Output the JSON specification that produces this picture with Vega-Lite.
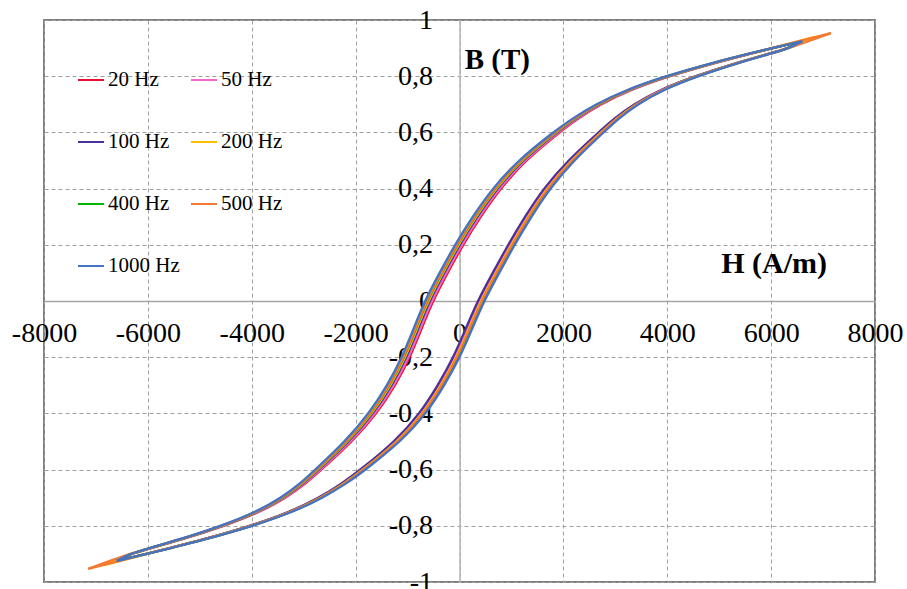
{
"$schema": "https://vega.github.io/schema/vega-lite/v6.json",
"width": 831, "height": 562,
"autosize": {"type": "none"},
"padding": {"left": 44, "top": 20, "right": 32, "bottom": 7},
"background": "white",
"config": {"view": {"stroke": "#7f7f7f", "strokeWidth": 2}, "font": "Liberation Serif"},
"datasets": {"loops": [
{"f":"20 Hz","br":"u","h":-6600,"b":-0.925},{"f":"20 Hz","br":"u","h":-6338,"b":-0.9},{"f":"20 Hz","br":"u","h":-5954,"b":-0.88},{"f":"20 Hz","br":"u","h":-5366,"b":-0.85},{"f":"20 Hz","br":"u","h":-4518,"b":-0.8},{"f":"20 Hz","br":"u","h":-3826,"b":-0.75},{"f":"20 Hz","br":"u","h":-3341,"b":-0.7},{"f":"20 Hz","br":"u","h":-2960,"b":-0.65},{"f":"20 Hz","br":"u","h":-2655,"b":-0.6},{"f":"20 Hz","br":"u","h":-2063,"b":-0.5},{"f":"20 Hz","br":"u","h":-1587,"b":-0.4},{"f":"20 Hz","br":"u","h":-1235,"b":-0.3},{"f":"20 Hz","br":"u","h":-950,"b":-0.2},{"f":"20 Hz","br":"u","h":-733,"b":-0.1},{"f":"20 Hz","br":"u","h":-516,"b":0},{"f":"20 Hz","br":"u","h":-230,"b":0.1},{"f":"20 Hz","br":"u","h":65,"b":0.2},{"f":"20 Hz","br":"u","h":405,"b":0.3},{"f":"20 Hz","br":"u","h":785,"b":0.4},{"f":"20 Hz","br":"u","h":1262,"b":0.5},{"f":"20 Hz","br":"u","h":1923,"b":0.6},{"f":"20 Hz","br":"u","h":2282,"b":0.65},{"f":"20 Hz","br":"u","h":2717,"b":0.7},{"f":"20 Hz","br":"u","h":3266,"b":0.75},{"f":"20 Hz","br":"u","h":4022,"b":0.8},{"f":"20 Hz","br":"u","h":4964,"b":0.85},{"f":"20 Hz","br":"u","h":5606,"b":0.88},{"f":"20 Hz","br":"u","h":6032,"b":0.9},{"f":"20 Hz","br":"u","h":6600,"b":0.925},
{"f":"20 Hz","br":"l","h":-6600,"b":-0.925},{"f":"20 Hz","br":"l","h":-6023,"b":-0.9},{"f":"20 Hz","br":"l","h":-5594,"b":-0.88},{"f":"20 Hz","br":"l","h":-4946,"b":-0.85},{"f":"20 Hz","br":"l","h":-3998,"b":-0.8},{"f":"20 Hz","br":"l","h":-3236,"b":-0.75},{"f":"20 Hz","br":"l","h":-2681,"b":-0.7},{"f":"20 Hz","br":"l","h":-2240,"b":-0.65},{"f":"20 Hz","br":"l","h":-1875,"b":-0.6},{"f":"20 Hz","br":"l","h":-1208,"b":-0.5},{"f":"20 Hz","br":"l","h":-725,"b":-0.4},{"f":"20 Hz","br":"l","h":-380,"b":-0.3},{"f":"20 Hz","br":"l","h":-80,"b":-0.2},{"f":"20 Hz","br":"l","h":152,"b":-0.1},{"f":"20 Hz","br":"l","h":382,"b":0},{"f":"20 Hz","br":"l","h":675,"b":0.1},{"f":"20 Hz","br":"l","h":970,"b":0.2},{"f":"20 Hz","br":"l","h":1295,"b":0.3},{"f":"20 Hz","br":"l","h":1647,"b":0.4},{"f":"20 Hz","br":"l","h":2117,"b":0.5},{"f":"20 Hz","br":"l","h":2703,"b":0.6},{"f":"20 Hz","br":"l","h":3002,"b":0.65},{"f":"20 Hz","br":"l","h":3377,"b":0.7},{"f":"20 Hz","br":"l","h":3856,"b":0.75},{"f":"20 Hz","br":"l","h":4542,"b":0.8},{"f":"20 Hz","br":"l","h":5384,"b":0.85},{"f":"20 Hz","br":"l","h":5966,"b":0.88},{"f":"20 Hz","br":"l","h":6347,"b":0.9},{"f":"20 Hz","br":"l","h":6600,"b":0.925},
{"f":"50 Hz","br":"u","h":-6600,"b":-0.925},{"f":"50 Hz","br":"u","h":-6342,"b":-0.9},{"f":"50 Hz","br":"u","h":-5959,"b":-0.88},{"f":"50 Hz","br":"u","h":-5373,"b":-0.85},{"f":"50 Hz","br":"u","h":-4528,"b":-0.8},{"f":"50 Hz","br":"u","h":-3838,"b":-0.75},{"f":"50 Hz","br":"u","h":-3356,"b":-0.7},{"f":"50 Hz","br":"u","h":-2977,"b":-0.65},{"f":"50 Hz","br":"u","h":-2675,"b":-0.6},{"f":"50 Hz","br":"u","h":-2085,"b":-0.5},{"f":"50 Hz","br":"u","h":-1612,"b":-0.4},{"f":"50 Hz","br":"u","h":-1260,"b":-0.3},{"f":"50 Hz","br":"u","h":-975,"b":-0.2},{"f":"50 Hz","br":"u","h":-758,"b":-0.1},{"f":"50 Hz","br":"u","h":-541,"b":0},{"f":"50 Hz","br":"u","h":-255,"b":0.1},{"f":"50 Hz","br":"u","h":40,"b":0.2},{"f":"50 Hz","br":"u","h":380,"b":0.3},{"f":"50 Hz","br":"u","h":760,"b":0.4},{"f":"50 Hz","br":"u","h":1240,"b":0.5},{"f":"50 Hz","br":"u","h":1903,"b":0.6},{"f":"50 Hz","br":"u","h":2265,"b":0.65},{"f":"50 Hz","br":"u","h":2702,"b":0.7},{"f":"50 Hz","br":"u","h":3254,"b":0.75},{"f":"50 Hz","br":"u","h":4012,"b":0.8},{"f":"50 Hz","br":"u","h":4957,"b":0.85},{"f":"50 Hz","br":"u","h":5601,"b":0.88},{"f":"50 Hz","br":"u","h":6028,"b":0.9},{"f":"50 Hz","br":"u","h":6600,"b":0.925},
{"f":"50 Hz","br":"l","h":-6600,"b":-0.925},{"f":"50 Hz","br":"l","h":-6025,"b":-0.9},{"f":"50 Hz","br":"l","h":-5597,"b":-0.88},{"f":"50 Hz","br":"l","h":-4951,"b":-0.85},{"f":"50 Hz","br":"l","h":-4004,"b":-0.8},{"f":"50 Hz","br":"l","h":-3244,"b":-0.75},{"f":"50 Hz","br":"l","h":-2690,"b":-0.7},{"f":"50 Hz","br":"l","h":-2251,"b":-0.65},{"f":"50 Hz","br":"l","h":-1887,"b":-0.6},{"f":"50 Hz","br":"l","h":-1222,"b":-0.5},{"f":"50 Hz","br":"l","h":-740,"b":-0.4},{"f":"50 Hz","br":"l","h":-395,"b":-0.3},{"f":"50 Hz","br":"l","h":-95,"b":-0.2},{"f":"50 Hz","br":"l","h":137,"b":-0.1},{"f":"50 Hz","br":"l","h":367,"b":0},{"f":"50 Hz","br":"l","h":660,"b":0.1},{"f":"50 Hz","br":"l","h":955,"b":0.2},{"f":"50 Hz","br":"l","h":1280,"b":0.3},{"f":"50 Hz","br":"l","h":1632,"b":0.4},{"f":"50 Hz","br":"l","h":2103,"b":0.5},{"f":"50 Hz","br":"l","h":2691,"b":0.6},{"f":"50 Hz","br":"l","h":2991,"b":0.65},{"f":"50 Hz","br":"l","h":3368,"b":0.7},{"f":"50 Hz","br":"l","h":3848,"b":0.75},{"f":"50 Hz","br":"l","h":4536,"b":0.8},{"f":"50 Hz","br":"l","h":5379,"b":0.85},{"f":"50 Hz","br":"l","h":5963,"b":0.88},{"f":"50 Hz","br":"l","h":6345,"b":0.9},{"f":"50 Hz","br":"l","h":6600,"b":0.925},
{"f":"100 Hz","br":"u","h":-6600,"b":-0.925},{"f":"100 Hz","br":"u","h":-6348,"b":-0.9},{"f":"100 Hz","br":"u","h":-5967,"b":-0.88},{"f":"100 Hz","br":"u","h":-5385,"b":-0.85},{"f":"100 Hz","br":"u","h":-4544,"b":-0.8},{"f":"100 Hz","br":"u","h":-3858,"b":-0.75},{"f":"100 Hz","br":"u","h":-3380,"b":-0.7},{"f":"100 Hz","br":"u","h":-3005,"b":-0.65},{"f":"100 Hz","br":"u","h":-2707,"b":-0.6},{"f":"100 Hz","br":"u","h":-2121,"b":-0.5},{"f":"100 Hz","br":"u","h":-1652,"b":-0.4},{"f":"100 Hz","br":"u","h":-1300,"b":-0.3},{"f":"100 Hz","br":"u","h":-1015,"b":-0.2},{"f":"100 Hz","br":"u","h":-798,"b":-0.1},{"f":"100 Hz","br":"u","h":-581,"b":0},{"f":"100 Hz","br":"u","h":-295,"b":0.1},{"f":"100 Hz","br":"u","h":0,"b":0.2},{"f":"100 Hz","br":"u","h":340,"b":0.3},{"f":"100 Hz","br":"u","h":720,"b":0.4},{"f":"100 Hz","br":"u","h":1204,"b":0.5},{"f":"100 Hz","br":"u","h":1871,"b":0.6},{"f":"100 Hz","br":"u","h":2237,"b":0.65},{"f":"100 Hz","br":"u","h":2678,"b":0.7},{"f":"100 Hz","br":"u","h":3234,"b":0.75},{"f":"100 Hz","br":"u","h":3996,"b":0.8},{"f":"100 Hz","br":"u","h":4945,"b":0.85},{"f":"100 Hz","br":"u","h":5593,"b":0.88},{"f":"100 Hz","br":"u","h":6022,"b":0.9},{"f":"100 Hz","br":"u","h":6600,"b":0.925},
{"f":"100 Hz","br":"l","h":-6600,"b":-0.925},{"f":"100 Hz","br":"l","h":-6028,"b":-0.9},{"f":"100 Hz","br":"l","h":-5601,"b":-0.88},{"f":"100 Hz","br":"l","h":-4957,"b":-0.85},{"f":"100 Hz","br":"l","h":-4012,"b":-0.8},{"f":"100 Hz","br":"l","h":-3254,"b":-0.75},{"f":"100 Hz","br":"l","h":-2702,"b":-0.7},{"f":"100 Hz","br":"l","h":-2265,"b":-0.65},{"f":"100 Hz","br":"l","h":-1903,"b":-0.6},{"f":"100 Hz","br":"l","h":-1240,"b":-0.5},{"f":"100 Hz","br":"l","h":-760,"b":-0.4},{"f":"100 Hz","br":"l","h":-415,"b":-0.3},{"f":"100 Hz","br":"l","h":-115,"b":-0.2},{"f":"100 Hz","br":"l","h":117,"b":-0.1},{"f":"100 Hz","br":"l","h":347,"b":0},{"f":"100 Hz","br":"l","h":640,"b":0.1},{"f":"100 Hz","br":"l","h":935,"b":0.2},{"f":"100 Hz","br":"l","h":1260,"b":0.3},{"f":"100 Hz","br":"l","h":1612,"b":0.4},{"f":"100 Hz","br":"l","h":2085,"b":0.5},{"f":"100 Hz","br":"l","h":2675,"b":0.6},{"f":"100 Hz","br":"l","h":2977,"b":0.65},{"f":"100 Hz","br":"l","h":3356,"b":0.7},{"f":"100 Hz","br":"l","h":3838,"b":0.75},{"f":"100 Hz","br":"l","h":4528,"b":0.8},{"f":"100 Hz","br":"l","h":5373,"b":0.85},{"f":"100 Hz","br":"l","h":5959,"b":0.88},{"f":"100 Hz","br":"l","h":6342,"b":0.9},{"f":"100 Hz","br":"l","h":6600,"b":0.925},
{"f":"200 Hz","br":"u","h":-6850,"b":-0.94},{"f":"200 Hz","br":"u","h":-6352,"b":-0.9},{"f":"200 Hz","br":"u","h":-5972,"b":-0.88},{"f":"200 Hz","br":"u","h":-5393,"b":-0.85},{"f":"200 Hz","br":"u","h":-4554,"b":-0.8},{"f":"200 Hz","br":"u","h":-3871,"b":-0.75},{"f":"200 Hz","br":"u","h":-3395,"b":-0.7},{"f":"200 Hz","br":"u","h":-3023,"b":-0.65},{"f":"200 Hz","br":"u","h":-2727,"b":-0.6},{"f":"200 Hz","br":"u","h":-2144,"b":-0.5},{"f":"200 Hz","br":"u","h":-1677,"b":-0.4},{"f":"200 Hz","br":"u","h":-1325,"b":-0.3},{"f":"200 Hz","br":"u","h":-1040,"b":-0.2},{"f":"200 Hz","br":"u","h":-823,"b":-0.1},{"f":"200 Hz","br":"u","h":-606,"b":0},{"f":"200 Hz","br":"u","h":-320,"b":0.1},{"f":"200 Hz","br":"u","h":-25,"b":0.2},{"f":"200 Hz","br":"u","h":315,"b":0.3},{"f":"200 Hz","br":"u","h":695,"b":0.4},{"f":"200 Hz","br":"u","h":1181,"b":0.5},{"f":"200 Hz","br":"u","h":1851,"b":0.6},{"f":"200 Hz","br":"u","h":2219,"b":0.65},{"f":"200 Hz","br":"u","h":2663,"b":0.7},{"f":"200 Hz","br":"u","h":3221,"b":0.75},{"f":"200 Hz","br":"u","h":3986,"b":0.8},{"f":"200 Hz","br":"u","h":4937,"b":0.85},{"f":"200 Hz","br":"u","h":5588,"b":0.88},{"f":"200 Hz","br":"u","h":6018,"b":0.9},{"f":"200 Hz","br":"u","h":6850,"b":0.94},
{"f":"200 Hz","br":"l","h":-6850,"b":-0.94},{"f":"200 Hz","br":"l","h":-6019,"b":-0.9},{"f":"200 Hz","br":"l","h":-5589,"b":-0.88},{"f":"200 Hz","br":"l","h":-4938,"b":-0.85},{"f":"200 Hz","br":"l","h":-3988,"b":-0.8},{"f":"200 Hz","br":"l","h":-3223,"b":-0.75},{"f":"200 Hz","br":"l","h":-2666,"b":-0.7},{"f":"200 Hz","br":"l","h":-2222,"b":-0.65},{"f":"200 Hz","br":"l","h":-1855,"b":-0.6},{"f":"200 Hz","br":"l","h":-1185,"b":-0.5},{"f":"200 Hz","br":"l","h":-700,"b":-0.4},{"f":"200 Hz","br":"l","h":-355,"b":-0.3},{"f":"200 Hz","br":"l","h":-55,"b":-0.2},{"f":"200 Hz","br":"l","h":177,"b":-0.1},{"f":"200 Hz","br":"l","h":407,"b":0},{"f":"200 Hz","br":"l","h":700,"b":0.1},{"f":"200 Hz","br":"l","h":995,"b":0.2},{"f":"200 Hz","br":"l","h":1320,"b":0.3},{"f":"200 Hz","br":"l","h":1672,"b":0.4},{"f":"200 Hz","br":"l","h":2140,"b":0.5},{"f":"200 Hz","br":"l","h":2723,"b":0.6},{"f":"200 Hz","br":"l","h":3020,"b":0.65},{"f":"200 Hz","br":"l","h":3392,"b":0.7},{"f":"200 Hz","br":"l","h":3869,"b":0.75},{"f":"200 Hz","br":"l","h":4552,"b":0.8},{"f":"200 Hz","br":"l","h":5392,"b":0.85},{"f":"200 Hz","br":"l","h":5971,"b":0.88},{"f":"200 Hz","br":"l","h":6351,"b":0.9},{"f":"200 Hz","br":"l","h":6850,"b":0.94},
{"f":"400 Hz","br":"u","h":-6600,"b":-0.925},{"f":"400 Hz","br":"u","h":-6355,"b":-0.9},{"f":"400 Hz","br":"u","h":-5976,"b":-0.88},{"f":"400 Hz","br":"u","h":-5399,"b":-0.85},{"f":"400 Hz","br":"u","h":-4562,"b":-0.8},{"f":"400 Hz","br":"u","h":-3881,"b":-0.75},{"f":"400 Hz","br":"u","h":-3407,"b":-0.7},{"f":"400 Hz","br":"u","h":-3037,"b":-0.65},{"f":"400 Hz","br":"u","h":-2743,"b":-0.6},{"f":"400 Hz","br":"u","h":-2162,"b":-0.5},{"f":"400 Hz","br":"u","h":-1697,"b":-0.4},{"f":"400 Hz","br":"u","h":-1345,"b":-0.3},{"f":"400 Hz","br":"u","h":-1060,"b":-0.2},{"f":"400 Hz","br":"u","h":-843,"b":-0.1},{"f":"400 Hz","br":"u","h":-626,"b":0},{"f":"400 Hz","br":"u","h":-340,"b":0.1},{"f":"400 Hz","br":"u","h":-45,"b":0.2},{"f":"400 Hz","br":"u","h":295,"b":0.3},{"f":"400 Hz","br":"u","h":675,"b":0.4},{"f":"400 Hz","br":"u","h":1163,"b":0.5},{"f":"400 Hz","br":"u","h":1835,"b":0.6},{"f":"400 Hz","br":"u","h":2205,"b":0.65},{"f":"400 Hz","br":"u","h":2651,"b":0.7},{"f":"400 Hz","br":"u","h":3211,"b":0.75},{"f":"400 Hz","br":"u","h":3978,"b":0.8},{"f":"400 Hz","br":"u","h":4931,"b":0.85},{"f":"400 Hz","br":"u","h":5584,"b":0.88},{"f":"400 Hz","br":"u","h":6015,"b":0.9},{"f":"400 Hz","br":"u","h":6600,"b":0.925},
{"f":"400 Hz","br":"l","h":-6600,"b":-0.925},{"f":"400 Hz","br":"l","h":-6015,"b":-0.9},{"f":"400 Hz","br":"l","h":-5583,"b":-0.88},{"f":"400 Hz","br":"l","h":-4929,"b":-0.85},{"f":"400 Hz","br":"l","h":-3976,"b":-0.8},{"f":"400 Hz","br":"l","h":-3208,"b":-0.75},{"f":"400 Hz","br":"l","h":-2648,"b":-0.7},{"f":"400 Hz","br":"l","h":-2201,"b":-0.65},{"f":"400 Hz","br":"l","h":-1831,"b":-0.6},{"f":"400 Hz","br":"l","h":-1158,"b":-0.5},{"f":"400 Hz","br":"l","h":-670,"b":-0.4},{"f":"400 Hz","br":"l","h":-325,"b":-0.3},{"f":"400 Hz","br":"l","h":-25,"b":-0.2},{"f":"400 Hz","br":"l","h":207,"b":-0.1},{"f":"400 Hz","br":"l","h":437,"b":0},{"f":"400 Hz","br":"l","h":730,"b":0.1},{"f":"400 Hz","br":"l","h":1025,"b":0.2},{"f":"400 Hz","br":"l","h":1350,"b":0.3},{"f":"400 Hz","br":"l","h":1702,"b":0.4},{"f":"400 Hz","br":"l","h":2167,"b":0.5},{"f":"400 Hz","br":"l","h":2747,"b":0.6},{"f":"400 Hz","br":"l","h":3041,"b":0.65},{"f":"400 Hz","br":"l","h":3410,"b":0.7},{"f":"400 Hz","br":"l","h":3884,"b":0.75},{"f":"400 Hz","br":"l","h":4564,"b":0.8},{"f":"400 Hz","br":"l","h":5401,"b":0.85},{"f":"400 Hz","br":"l","h":5977,"b":0.88},{"f":"400 Hz","br":"l","h":6355,"b":0.9},{"f":"400 Hz","br":"l","h":6600,"b":0.925},
{"f":"500 Hz","br":"u","h":-7150,"b":-0.953},{"f":"500 Hz","br":"u","h":-6356,"b":-0.9},{"f":"500 Hz","br":"u","h":-5978,"b":-0.88},{"f":"500 Hz","br":"u","h":-5402,"b":-0.85},{"f":"500 Hz","br":"u","h":-4566,"b":-0.8},{"f":"500 Hz","br":"u","h":-3886,"b":-0.75},{"f":"500 Hz","br":"u","h":-3413,"b":-0.7},{"f":"500 Hz","br":"u","h":-3044,"b":-0.65},{"f":"500 Hz","br":"u","h":-2751,"b":-0.6},{"f":"500 Hz","br":"u","h":-2171,"b":-0.5},{"f":"500 Hz","br":"u","h":-1707,"b":-0.4},{"f":"500 Hz","br":"u","h":-1355,"b":-0.3},{"f":"500 Hz","br":"u","h":-1070,"b":-0.2},{"f":"500 Hz","br":"u","h":-853,"b":-0.1},{"f":"500 Hz","br":"u","h":-636,"b":0},{"f":"500 Hz","br":"u","h":-350,"b":0.1},{"f":"500 Hz","br":"u","h":-55,"b":0.2},{"f":"500 Hz","br":"u","h":285,"b":0.3},{"f":"500 Hz","br":"u","h":665,"b":0.4},{"f":"500 Hz","br":"u","h":1154,"b":0.5},{"f":"500 Hz","br":"u","h":1827,"b":0.6},{"f":"500 Hz","br":"u","h":2198,"b":0.65},{"f":"500 Hz","br":"u","h":2645,"b":0.7},{"f":"500 Hz","br":"u","h":3206,"b":0.75},{"f":"500 Hz","br":"u","h":3974,"b":0.8},{"f":"500 Hz","br":"u","h":4928,"b":0.85},{"f":"500 Hz","br":"u","h":5582,"b":0.88},{"f":"500 Hz","br":"u","h":6014,"b":0.9},{"f":"500 Hz","br":"u","h":7150,"b":0.953},
{"f":"500 Hz","br":"l","h":-7150,"b":-0.953},{"f":"500 Hz","br":"l","h":-6017,"b":-0.9},{"f":"500 Hz","br":"l","h":-5586,"b":-0.88},{"f":"500 Hz","br":"l","h":-4934,"b":-0.85},{"f":"500 Hz","br":"l","h":-3982,"b":-0.8},{"f":"500 Hz","br":"l","h":-3216,"b":-0.75},{"f":"500 Hz","br":"l","h":-2657,"b":-0.7},{"f":"500 Hz","br":"l","h":-2212,"b":-0.65},{"f":"500 Hz","br":"l","h":-1843,"b":-0.6},{"f":"500 Hz","br":"l","h":-1172,"b":-0.5},{"f":"500 Hz","br":"l","h":-685,"b":-0.4},{"f":"500 Hz","br":"l","h":-340,"b":-0.3},{"f":"500 Hz","br":"l","h":-40,"b":-0.2},{"f":"500 Hz","br":"l","h":192,"b":-0.1},{"f":"500 Hz","br":"l","h":422,"b":0},{"f":"500 Hz","br":"l","h":715,"b":0.1},{"f":"500 Hz","br":"l","h":1010,"b":0.2},{"f":"500 Hz","br":"l","h":1335,"b":0.3},{"f":"500 Hz","br":"l","h":1687,"b":0.4},{"f":"500 Hz","br":"l","h":2153,"b":0.5},{"f":"500 Hz","br":"l","h":2735,"b":0.6},{"f":"500 Hz","br":"l","h":3030,"b":0.65},{"f":"500 Hz","br":"l","h":3401,"b":0.7},{"f":"500 Hz","br":"l","h":3876,"b":0.75},{"f":"500 Hz","br":"l","h":4558,"b":0.8},{"f":"500 Hz","br":"l","h":5396,"b":0.85},{"f":"500 Hz","br":"l","h":5974,"b":0.88},{"f":"500 Hz","br":"l","h":6353,"b":0.9},{"f":"500 Hz","br":"l","h":7150,"b":0.953},
{"f":"1000 Hz","br":"u","h":-6600,"b":-0.925},{"f":"1000 Hz","br":"u","h":-6361,"b":-0.9},{"f":"1000 Hz","br":"u","h":-5985,"b":-0.88},{"f":"1000 Hz","br":"u","h":-5413,"b":-0.85},{"f":"1000 Hz","br":"u","h":-4580,"b":-0.8},{"f":"1000 Hz","br":"u","h":-3904,"b":-0.75},{"f":"1000 Hz","br":"u","h":-3434,"b":-0.7},{"f":"1000 Hz","br":"u","h":-3069,"b":-0.65},{"f":"1000 Hz","br":"u","h":-2779,"b":-0.6},{"f":"1000 Hz","br":"u","h":-2203,"b":-0.5},{"f":"1000 Hz","br":"u","h":-1742,"b":-0.4},{"f":"1000 Hz","br":"u","h":-1390,"b":-0.3},{"f":"1000 Hz","br":"u","h":-1105,"b":-0.2},{"f":"1000 Hz","br":"u","h":-888,"b":-0.1},{"f":"1000 Hz","br":"u","h":-671,"b":0},{"f":"1000 Hz","br":"u","h":-385,"b":0.1},{"f":"1000 Hz","br":"u","h":-90,"b":0.2},{"f":"1000 Hz","br":"u","h":250,"b":0.3},{"f":"1000 Hz","br":"u","h":630,"b":0.4},{"f":"1000 Hz","br":"u","h":1122,"b":0.5},{"f":"1000 Hz","br":"u","h":1799,"b":0.6},{"f":"1000 Hz","br":"u","h":2173,"b":0.65},{"f":"1000 Hz","br":"u","h":2624,"b":0.7},{"f":"1000 Hz","br":"u","h":3188,"b":0.75},{"f":"1000 Hz","br":"u","h":3960,"b":0.8},{"f":"1000 Hz","br":"u","h":4917,"b":0.85},{"f":"1000 Hz","br":"u","h":5575,"b":0.88},{"f":"1000 Hz","br":"u","h":6009,"b":0.9},{"f":"1000 Hz","br":"u","h":6600,"b":0.925},
{"f":"1000 Hz","br":"l","h":-6600,"b":-0.925},{"f":"1000 Hz","br":"l","h":-6009,"b":-0.9},{"f":"1000 Hz","br":"l","h":-5576,"b":-0.88},{"f":"1000 Hz","br":"l","h":-4919,"b":-0.85},{"f":"1000 Hz","br":"l","h":-3962,"b":-0.8},{"f":"1000 Hz","br":"l","h":-3191,"b":-0.75},{"f":"1000 Hz","br":"l","h":-2627,"b":-0.7},{"f":"1000 Hz","br":"l","h":-2177,"b":-0.65},{"f":"1000 Hz","br":"l","h":-1803,"b":-0.6},{"f":"1000 Hz","br":"l","h":-1127,"b":-0.5},{"f":"1000 Hz","br":"l","h":-635,"b":-0.4},{"f":"1000 Hz","br":"l","h":-290,"b":-0.3},{"f":"1000 Hz","br":"l","h":10,"b":-0.2},{"f":"1000 Hz","br":"l","h":242,"b":-0.1},{"f":"1000 Hz","br":"l","h":472,"b":0},{"f":"1000 Hz","br":"l","h":765,"b":0.1},{"f":"1000 Hz","br":"l","h":1060,"b":0.2},{"f":"1000 Hz","br":"l","h":1385,"b":0.3},{"f":"1000 Hz","br":"l","h":1737,"b":0.4},{"f":"1000 Hz","br":"l","h":2198,"b":0.5},{"f":"1000 Hz","br":"l","h":2775,"b":0.6},{"f":"1000 Hz","br":"l","h":3065,"b":0.65},{"f":"1000 Hz","br":"l","h":3431,"b":0.7},{"f":"1000 Hz","br":"l","h":3901,"b":0.75},{"f":"1000 Hz","br":"l","h":4578,"b":0.8},{"f":"1000 Hz","br":"l","h":5411,"b":0.85},{"f":"1000 Hz","br":"l","h":5984,"b":0.88},{"f":"1000 Hz","br":"l","h":6361,"b":0.9},{"f":"1000 Hz","br":"l","h":6600,"b":0.925}
]},
"layer": [
{"data": {"name": "loops"},
 "mark": {"type": "line", "interpolate": "basis", "strokeWidth": 2.3},
 "encoding": {
  "x": {"field": "h", "type": "quantitative",
        "scale": {"domain": [-8000, 8000], "nice": false, "zero": false},
        "axis": {"title": null, "offset": -281, "values": [-8000,-6000,-4000,-2000,0,2000,4000,6000,8000],
                 "grid": true, "gridDash": [4,3], "gridColor": "#a0a0a0", "gridWidth": 1,
                 "domainColor": "#a6a6a6", "domainWidth": 1.5, "ticks": false,
                 "labelPadding": 18, "labelFontSize": 28, "labelFont": "Liberation Serif", "labelColor": "#000000",
                 "labelFlush": false, "labelOverlap": false, "labelBound": false,
                 "labelExpr": "replace(format(datum.value, 'd'), '\u2212', '-')"}},
  "y": {"field": "b", "type": "quantitative",
        "scale": {"domain": [-1, 1], "nice": false, "zero": false},
        "axis": {"title": null, "offset": -415.5, "values": [-1,-0.8,-0.6,-0.4,-0.2,0,0.2,0.4,0.6,0.8,1],
                 "grid": true, "gridDash": [4,3], "gridColor": "#a0a0a0", "gridWidth": 1,
                 "domainColor": "#b4b4b4", "domainWidth": 1.5, "ticks": false,
                 "labelPadding": 27, "labelFontSize": 28, "labelFont": "Liberation Serif", "labelColor": "#000000",
                 "labelFlush": false, "labelOverlap": false, "labelBound": false,
                 "labelExpr": "replace(replace(format(datum.value, ''), '.', ','), '\u2212', '-')"}},
  "color": {"field": "f", "type": "nominal",
            "scale": {"domain": ["20 Hz","50 Hz","100 Hz","200 Hz","400 Hz","500 Hz","1000 Hz"],
                      "range": ["#e8102c","#f467c8","#4b2f9e","#ffbf00","#00b400","#f47a32","#4472c4"]},
            "legend": {"title": null, "orient": "none", "legendX": 33, "legendY": 46, "columns": 2, "direction": "horizontal",
                       "symbolType": "stroke", "symbolSize": 676, "symbolStrokeWidth": 2,
                       "labelFontSize": 21, "labelFont": "Liberation Serif", "labelColor": "#000000",
                       "labelOffset": 3, "rowPadding": 38, "columnPadding": 7, "padding": 0}},
  "detail": {"field": "br"}
 }},
{"data": {"values": [{}]},
 "mark": {"type": "text", "font": "Liberation Serif", "fontWeight": "bold", "fontSize": 29, "align": "left", "baseline": "middle", "color": "#000000"},
 "encoding": {"x": {"datum": 100, "type": "quantitative"}, "y": {"datum": 0.858, "type": "quantitative"}, "text": {"value": "B (T)"}}},
{"data": {"values": [{}]},
 "mark": {"type": "text", "font": "Liberation Serif", "fontWeight": "bold", "fontSize": 30, "align": "left", "baseline": "middle", "color": "#000000"},
 "encoding": {"x": {"datum": 5038, "type": "quantitative"}, "y": {"datum": 0.132, "type": "quantitative"}, "text": {"value": "H (A/m)"}}}
]
}
